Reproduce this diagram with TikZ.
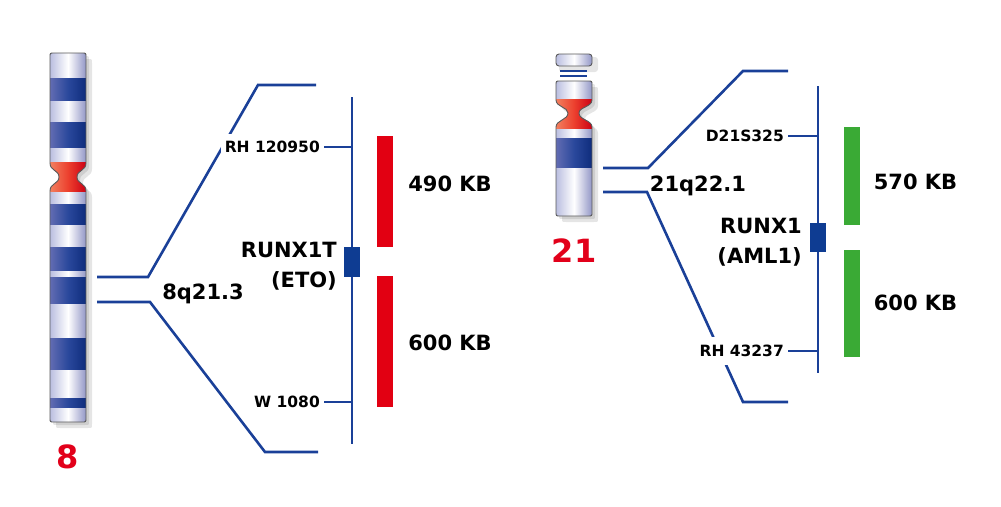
\documentclass[tikz,border=0pt]{standalone}
\usepackage{fontspec}
\setmainfont{DejaVu Sans}

\definecolor{linkblue}{RGB}{26,64,152}
\definecolor{geneblue}{RGB}{14,60,146}
\definecolor{kbred}{RGB}{226,0,18}
\definecolor{kbgreen}{RGB}{58,170,53}
\definecolor{chrred}{RGB}{226,0,26}
\definecolor{paleL}{RGB}{186,190,224}
\definecolor{paleR}{RGB}{146,150,198}
\definecolor{blueL}{RGB}{98,108,178}
\definecolor{blueM}{RGB}{42,72,156}
\definecolor{blueR}{RGB}{14,44,124}
\definecolor{cenL}{RGB}{242,128,96}
\definecolor{cenM}{RGB}{236,64,46}
\definecolor{cenR}{RGB}{204,0,20}

\newcommand{\chromeight}{(54,53) -- (82,53) .. controls (86,53) .. (86,57) -- (86,163) .. controls (86,171) and (77,170) .. (77,177) .. controls (77,184) and (86,183) .. (86,191) -- (86,418) .. controls (86,422) .. (82,422) -- (54,422) .. controls (50,422) .. (50,418) -- (50,191) .. controls (50,183) and (59,184) .. (59,177) .. controls (59,170) and (50,171) .. (50,163) -- (50,57) .. controls (50,53) .. (54,53) -- cycle}
\newcommand{\chromtwentyone}{(560,81) -- (588,81) .. controls (592,81) .. (592,85) -- (592,100) .. controls (592,107) and (579,107) .. (579,113) .. controls (579,120) and (592,120) .. (592,127) -- (592,212) .. controls (592,216) .. (588,216) -- (560,216) .. controls (556,216) .. (556,212) -- (556,127) .. controls (556,120) and (568,120) .. (568,113) .. controls (568,107) and (556,107) .. (556,100) -- (556,85) .. controls (556,81) .. (560,81) -- cycle}

\begin{document}
\begin{tikzpicture}[x=1pt, y=-1pt,
	conn/.style={draw=linkblue, line width=2.6},
	chroutline/.style={draw=black!65, line width=0.9},
	chrshadow/.style={fill=black, opacity=0.1},
	paleband/.style={left color=paleL, right color=paleR, middle color=white},
	darkband/.style={left color=blueL, right color=blueR, middle color=blueM},
	cenband/.style={left color=cenL, right color=cenR, middle color=cenM},
	gene/.style={fill=geneblue, minimum width=16, minimum height=30, inner sep=0},
	kbbar/.style={minimum width=16, inner sep=0},
	marker/.style={font=\bfseries\fontsize{15.5}{18}\selectfont, fill=white, inner xsep=4pt, inner ysep=7pt, anchor=base east},
	sizelbl/.style={font=\bfseries\fontsize{21}{25}\selectfont, inner sep=0, anchor=base},
	genename/.style={font=\bfseries\fontsize{21}{29.5}\selectfont, align=right, inner sep=0, anchor=east},
	chrnum/.style={font=\bfseries\fontsize{32}{36}\selectfont, text=chrred, inner sep=0, anchor=base}]
		\useasboundingbox (0,0) rectangle (1001,506);
		% Chromosome 8
		\fill[chrshadow, shift={(3,3)}] \chromeight;
		\fill[chrshadow, shift={(6,6)}] \chromeight;
		\begin{scope}
			\clip \chromeight;
			\path[paleband] (50,53) rectangle (86,422);
			\foreach \a/\b in {78/100,122/147,204/224,247/270,277/303,338/369,398/407}
				\path[darkband] (50,\a) rectangle (86,\b);
			\path[cenband] (50,162) rectangle (86,191);
		\end{scope}
		\draw[chroutline] \chromeight;
		\node[chrnum] (n8) at (68,468) {8};
		% Chromosome 21
		\fill[chrshadow, shift={(3,3)}] \chromtwentyone;
		\fill[chrshadow, shift={(6,6)}] \chromtwentyone;
		\fill[chrshadow, rounded corners=3] (559,57) rectangle (598,72);
		\path[paleband, rounded corners=3] (556,54) rectangle (592,66);
		\draw[chroutline, rounded corners=3] (556,54) rectangle (592,66);
		\draw[linkblue, line width=1.3] (560,71) -- (587,71) (560,76) -- (587,76);
		\begin{scope}
			\clip \chromtwentyone;
			\path[paleband] (556,81) rectangle (592,216);
			\path[cenband] (556,99) rectangle (592,128);
			\path[darkband] (556,138) rectangle (592,167);
		\end{scope}
		\draw[chroutline] \chromtwentyone;
		\node[chrnum] (n21) at (574,262) {21};
		% Coordinates
		\coordinate (b8a) at (97,277);   \coordinate (k8a) at (148,277);
		\coordinate (t8a) at (258,85);   \coordinate (e8a) at (316,85);
		\coordinate (b8b) at (97,302);   \coordinate (k8b) at (150,302);
		\coordinate (t8b) at (265,452);  \coordinate (e8b) at (318,452);
		\coordinate (ax8t) at (352,97);  \coordinate (ax8b) at (352,444);
		\coordinate (b21a) at (603,168); \coordinate (k21a) at (648,168);
		\coordinate (t21a) at (743,71);  \coordinate (e21a) at (788,71);
		\coordinate (b21b) at (603,192); \coordinate (k21b) at (647,192);
		\coordinate (t21b) at (743,402); \coordinate (e21b) at (788,402);
		\coordinate (ax21t) at (818,86); \coordinate (ax21b) at (818,373);
		%Connectors
		\draw[conn] (b8a) -- (k8a) -- (t8a) -- (e8a);
		\draw[conn] (b8b) -- (k8b) -- (t8b) -- (e8b);
		\draw[conn] (ax8t) -- (ax8b);
		\draw[conn] (b21a) -- (k21a) -- (t21a) -- (e21a);
		\draw[conn] (b21b) -- (k21b) -- (t21b) -- (e21b);
		\draw[conn] (ax21t) -- (ax21b);
		% Nodes
		\node[marker] (rh8) at (324,152.5) {RH 120950};
		\node[marker] (w8) at (324,407.5) {W 1080};
		\node[marker, inner ysep=8pt] (d21) at (788,141.5) {D21S325};
		\node[marker, inner ysep=8pt] (rh21) at (788,356.5) {RH 43237};
		\draw[conn] (rh8.east) -- (rh8.east -| ax8t);
		\draw[conn] (w8.east) -- (w8.east -| ax8t);
		\draw[conn] (d21.east) -- (d21.east -| ax21t);
		\draw[conn] (rh21.east) -- (rh21.east -| ax21t);
		\node[gene] (runxt) at (352,262) {};
		\node[gene, minimum height=29] (runx) at (818,237.5) {};
		\node[kbbar, fill=kbred, minimum height=111] (bar8a) at (385,191.5) {};
		\node[kbbar, fill=kbred, minimum height=131] (bar8b) at (385,341.5) {};
		\node[kbbar, fill=kbgreen, minimum height=98] (bar21a) at (852,176) {};
		\node[kbbar, fill=kbgreen, minimum height=107] (bar21b) at (852,303.5) {};
		\node[sizelbl] (kb8a) at (450,191.7) {490 KB};
		\node[sizelbl] (kb8b) at (450,350.7) {600 KB};
		\node[sizelbl] (kb21a) at (915.5,189) {570 KB};
		\node[sizelbl] (kb21b) at (915.5,310) {600 KB};
		\node[sizelbl] (loc8) at (203,299) {8q21.3};
		\node[sizelbl] (loc21) at (698,191) {21q22.1};
		\node[genename] (runxtlbl) at (337,266) {RUNX1T\\(ETO)};
		\node[genename] (runxlbl) at (802,242) {RUNX1\\(AML1)};
	\end{tikzpicture}
\end{document}
